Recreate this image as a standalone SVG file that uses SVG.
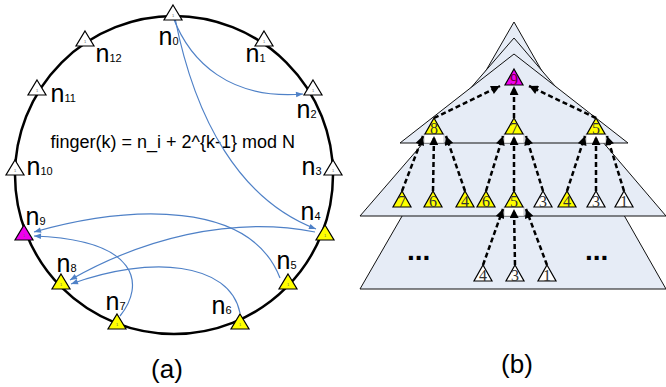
<svg xmlns="http://www.w3.org/2000/svg" xmlns:xlink="http://www.w3.org/1999/xlink" width="666" height="387" viewBox="0 0 666 387">
<style>
.lbl{font-family:"Liberation Sans",Arial,sans-serif;font-size:25px;fill:#000}
.sub{font-size:11px}
.tri{stroke:#000;stroke-width:1.2}
.w{fill:#fff}.y{fill:#ffff00}.m{fill:#ee00ee}
.tiny{font-family:"Liberation Sans",Arial,sans-serif;font-size:4px;fill:#666;text-anchor:middle}
.num{font-family:"Liberation Serif","Times New Roman",serif;font-size:16px;fill:#333;text-anchor:middle}
.blue{fill:none;stroke:#4f81c7;stroke-width:1.2;marker-end:url(#ab)}
.dash{fill:none;stroke:#000;stroke-width:2.5;stroke-dasharray:5 3;marker-end:url(#ak)}
.layer{fill:#e6ecf6;stroke:#111;stroke-width:1}
.cap{font-family:"Liberation Sans",Arial,sans-serif;font-size:26px;fill:#000;text-anchor:middle}
.dots{font-family:"Liberation Sans",Arial,sans-serif;font-size:28px;font-weight:bold;fill:#000}
</style>
<defs>
<marker id="ab" viewBox="0 0 10 10" refX="10" refY="5" markerWidth="8" markerHeight="7" markerUnits="userSpaceOnUse" orient="auto"><path d="M0,1 L10,5 L0,9 Z" fill="#4f81c7"/></marker>
<marker id="ak" viewBox="0 0 10 10" refX="10" refY="5" markerWidth="10" markerHeight="9" markerUnits="userSpaceOnUse" orient="auto"><path d="M0,0 L10,5 L0,10 Z" fill="#000"/></marker>
<polygon id="t" points="0,0 9,15 -9,15"/>
<polygon id="tb" points="0,0 9,16 -9,16"/>
</defs>

<!-- (a) ring -->
<circle cx="174" cy="175" r="159" fill="none" stroke="#000" stroke-width="2.5"/>
<text x="50.5" y="148" font-family="Liberation Sans, Arial, sans-serif" font-size="18" fill="#000">finger(k) = n_i + 2^{k-1} mod N</text>

<g id="ring-connectors">
<path class="blue" d="M173,17 C190,62 230,100 303,94"/>
<path class="blue" d="M175,18 C195,120 240,200 316,229"/>
<path class="blue" d="M315,232 C230,215 140,240 70,280"/>
<path class="blue" d="M240,313 C230,262 150,255 71,284"/>
<path class="blue" d="M280,278 C250,200 130,205 34,232"/>
<path class="blue" d="M120,316 C145,285 140,240 34,236"/>
</g>

<g id="n0"><use xlink:href="#t" x="173" y="5" class="tri w"/><text class="tiny" x="173" y="17">1</text><text class="lbl" x="158.5" y="45">n<tspan class="sub">0</tspan></text></g>
<g id="n1"><use xlink:href="#t" x="264" y="31" class="tri w"/><text class="tiny" x="264" y="43">1</text><text class="lbl" x="245.5" y="62">n<tspan class="sub">1</tspan></text></g>
<g id="n2"><use xlink:href="#t" x="313" y="80" class="tri w"/><text class="tiny" x="313" y="92">1</text><text class="lbl" x="296.5" y="118">n<tspan class="sub">2</tspan></text></g>
<g id="n3"><use xlink:href="#t" x="333" y="160" class="tri w"/><text class="tiny" x="333" y="172">1</text><text class="lbl" x="301.5" y="175">n<tspan class="sub">3</tspan></text></g>
<g id="n4"><use xlink:href="#t" x="325" y="225" class="tri y"/><text class="tiny" x="325" y="237">1</text><text class="lbl" x="300.5" y="220">n<tspan class="sub">4</tspan></text></g>
<g id="n5"><use xlink:href="#t" x="288" y="274" class="tri y"/><text class="tiny" x="288" y="286">1</text><text class="lbl" x="276.5" y="269">n<tspan class="sub">5</tspan></text></g>
<g id="n6"><use xlink:href="#t" x="240" y="314" class="tri y"/><text class="tiny" x="240" y="326">1</text><text class="lbl" x="211.5" y="314">n<tspan class="sub">6</tspan></text></g>
<g id="n7"><use xlink:href="#t" x="117" y="314" class="tri y"/><text class="tiny" x="117" y="326">1</text><text class="lbl" x="105.5" y="310">n<tspan class="sub">7</tspan></text></g>
<g id="n8"><use xlink:href="#t" x="61" y="274" class="tri y"/><text class="tiny" x="61" y="286">1</text><text class="lbl" x="56.5" y="272">n<tspan class="sub">8</tspan></text></g>
<g id="n9"><use xlink:href="#t" x="24" y="225" class="tri m"/><text class="tiny" x="24" y="237">1</text><text class="lbl" x="25.5" y="225">n<tspan class="sub">9</tspan></text></g>
<g id="n10"><use xlink:href="#t" x="15" y="160" class="tri w"/><text class="tiny" x="15" y="172">1</text><text class="lbl" x="26.5" y="175">n<tspan class="sub">10</tspan></text></g>
<g id="n11"><use xlink:href="#t" x="37" y="80" class="tri w"/><text class="tiny" x="37" y="92">1</text><text class="lbl" x="50.5" y="102">n<tspan class="sub">11</tspan></text></g>
<g id="n12"><use xlink:href="#t" x="85" y="31" class="tri w"/><text class="tiny" x="85" y="43">1</text><text class="lbl" x="95.5" y="62">n<tspan class="sub">12</tspan></text></g>

<text class="cap" x="167" y="377.5">(a)</text>

<!-- (b) pyramid -->
<g id="layers">
<polygon class="layer" points="514,22 360,289 666,289"/>
<polygon class="layer" points="514,38 360,216 666,216"/>
<polygon class="layer" points="514,54 400,143 628,143"/>
</g>

<g id="pads" fill="#fff" stroke="#999" stroke-width="0.6">
<rect x="424" y="134" width="20" height="9"/>
<rect x="504" y="134" width="20" height="9"/>
<rect x="586" y="134" width="20" height="9"/>
<rect x="504" y="207" width="20" height="9"/>
</g>

<g id="tree-connectors">
<path class="dash" d="M434,118 L500,86"/>
<path class="dash" d="M514,118 L514,86"/>
<path class="dash" d="M596,118 L529,86"/>
<path class="dash" d="M402,191 L423,136"/>
<path class="dash" d="M433,191 L434,136"/>
<path class="dash" d="M465,191 L446,136"/>
<path class="dash" d="M486,191 L503,136"/>
<path class="dash" d="M514,191 L514,136"/>
<path class="dash" d="M543,191 L526,136"/>
<path class="dash" d="M567,191 L585,136"/>
<path class="dash" d="M596,191 L596,136"/>
<path class="dash" d="M624,191 L607,136"/>
<path class="dash" d="M483,265 L503,209"/>
<path class="dash" d="M515,265 L514,209"/>
<path class="dash" d="M547,265 L526,209"/>
</g>

<g id="b9"><use xlink:href="#tb" x="514" y="69" class="tri m"/><text class="num" x="514" y="84.5" style="fill:#603">9</text></g>
<g id="b8"><use xlink:href="#tb" x="434" y="118" class="tri y"/><text class="num" x="434" y="133.5">8</text></g>
<g id="b7"><use xlink:href="#tb" x="514" y="118" class="tri y"/><text class="num" x="514" y="133.5">7</text></g>
<g id="b5"><use xlink:href="#tb" x="596" y="118" class="tri y"/><text class="num" x="596" y="133.5">5</text></g>

<g id="c7"><use xlink:href="#tb" x="402" y="191" class="tri y"/><text class="num" x="402" y="206.5">7</text></g>
<g id="c6a"><use xlink:href="#tb" x="433" y="191" class="tri y"/><text class="num" x="433" y="206.5">6</text></g>
<g id="c4a"><use xlink:href="#tb" x="465" y="191" class="tri y"/><text class="num" x="465" y="206.5">4</text></g>
<g id="c6b"><use xlink:href="#tb" x="486" y="191" class="tri y"/><text class="num" x="486" y="206.5">6</text></g>
<g id="c5"><use xlink:href="#tb" x="514" y="191" class="tri y"/><text class="num" x="514" y="206.5">5</text></g>
<g id="c3a"><use xlink:href="#tb" x="543" y="191" class="tri w"/><text class="num" x="543" y="206.5">3</text></g>
<g id="c4b"><use xlink:href="#tb" x="567" y="191" class="tri y"/><text class="num" x="567" y="206.5">4</text></g>
<g id="c3b"><use xlink:href="#tb" x="596" y="191" class="tri w"/><text class="num" x="596" y="206.5">3</text></g>
<g id="c1"><use xlink:href="#tb" x="624" y="191" class="tri w"/><text class="num" x="624" y="206.5">1</text></g>

<g id="d4"><use xlink:href="#tb" x="483" y="265" class="tri w"/><text class="num" x="483" y="280.5">4</text></g>
<g id="d3"><use xlink:href="#tb" x="515" y="265" class="tri w"/><text class="num" x="515" y="280.5">3</text></g>
<g id="d1"><use xlink:href="#tb" x="547" y="265" class="tri w"/><text class="num" x="547" y="280.5">1</text></g>

<text class="dots" x="407" y="260">...</text>
<text class="dots" x="585" y="260">...</text>

<text class="cap" x="517" y="373">(b)</text>
</svg>
